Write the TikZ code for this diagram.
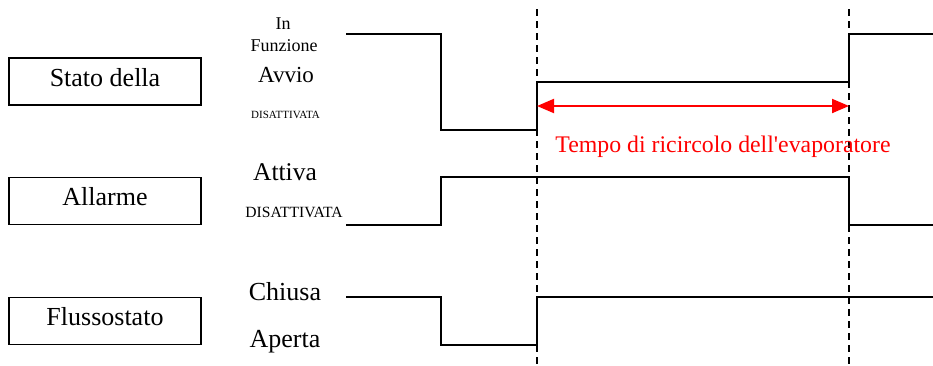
\documentclass[tikz,border=0pt]{standalone}
\usepackage{fontspec}
\setmainfont{Liberation Serif}
\usetikzlibrary{arrows.meta}
\newcommand\fs[1]{\fontsize{#1}{#1}\selectfont}
\tikzset{
  boxnode/.style={draw, line width=1.5pt, minimum width=192pt, minimum height=47pt, inner sep=0pt},
  lbl/.style={anchor=base, inner sep=0pt, font=\fs{26}},
  sig/.style={line width=1.6pt},
  marker/.style={line width=1.4pt, dash pattern=on 7pt off 5pt},
  span/.style={red, line width=2pt, {Triangle[length=17pt,width=14pt]}-{Triangle[length=17pt,width=14pt]}}
}
\begin{document}
\begin{tikzpicture}[x=1pt,y=-1pt]
\useasboundingbox (0,0) rectangle (933,365);
% boxes
\node[boxnode] (b1) at (105,81.5) {};
\node[boxnode] (b2) at (105,201) {};
\node[boxnode] (b3) at (105,321) {};
\node[lbl] (t1) at (105,86) {Stato della};
\node[lbl] (t2) at (105,205) {Allarme};
\node[lbl] (t3) at (105,325) {Flussostato};
% state labels
\node[lbl, font=\fs{18}] (in) at (283,29) {In};
\node[lbl, font=\fs{18}] (fz) at (284,51.5) {Funzione};
\node[lbl, font=\fs{23}] (avv) at (286,82) {Avvio};
\node[lbl, font=\fs{11}] (dis1) at (285.5,118.3) {DISATTIVATA};
\node[lbl, font=\fs{25.5}] (att) at (285,180) {Attiva};
\node[lbl, font=\fs{15.6}] (dis2) at (294,217.7) {DISATTIVATA};
\node[lbl] (chi) at (285,300) {Chiusa};
\node[lbl] (ape) at (285,347) {Aperta};
% time markers
\coordinate (m1top) at (537,9);
\coordinate (m1bot) at (537,365);
\coordinate (m2top) at (849,9);
\coordinate (m2bot) at (849,365);
\draw[marker] (m1top) -- (m1bot);
\draw[marker] (m2top) -- (m2bot);
% signals
\draw[sig] (346,34) -- (441,34) -- (441,130) -- (537,130) -- (537,82) -- (849,82) -- (849,34) -- (933,34);
\draw[sig] (346,225) -- (441,225) -- (441,177) -- (849,177) -- (849,225) -- (933,225);
\draw[sig] (346,297) -- (441,297) -- (441,345) -- (537,345) -- (537,297) -- (933,297);
% recirculation time
\coordinate (a1) at (537,106);
\coordinate (a2) at (849,106);
\draw[span] (a1) -- (a2);
\node[lbl, font=\fs{23.8}, text=red] (rt) at (723,152) {Tempo di ricircolo dell\textquotesingle evaporatore};
\end{tikzpicture}
\end{document}
